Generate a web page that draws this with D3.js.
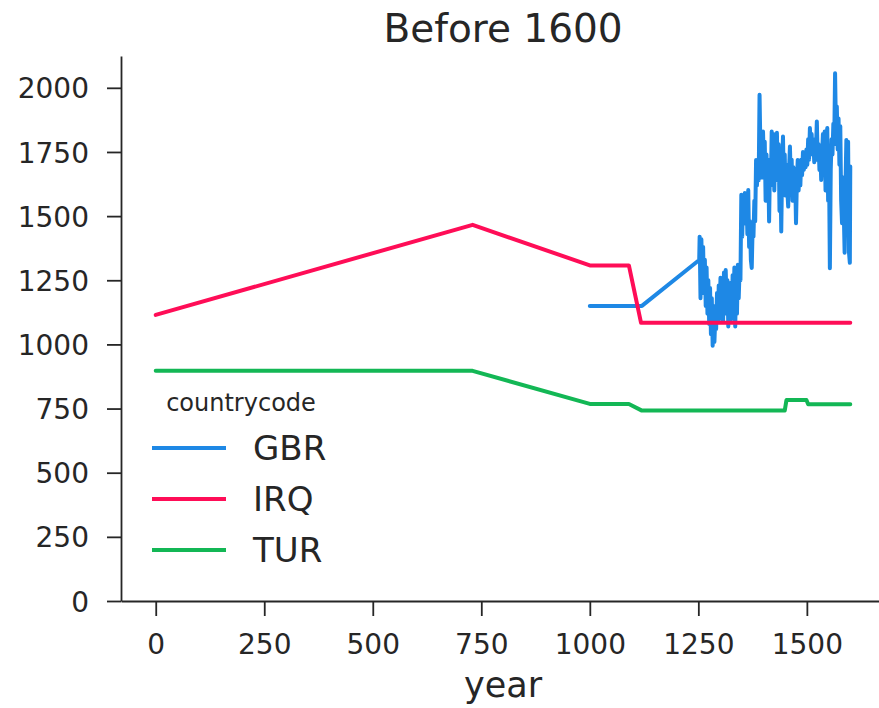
<!DOCTYPE html>
<html>
<head>
<meta charset="utf-8">
<script src="https://cdn.jsdelivr.net/npm/d3@7"></script>
<style>
  body { margin: 0; background: #fff; }
  text { font-family: "DejaVu Sans", sans-serif; fill: #262626; }
</style>
</head>
<body>
<div id="chart"></div>
<script>
// values ([year, value])
const countries = ["GBR", "IRQ", "TUR"];
const colors = ["#1e88e5", "#ff0d57", "#13b755"];

const irq = [[0, 1115], [730, 1466], [1000, 1308], [1090, 1308], [1118, 1084], [1600, 1084]];
const tur = [[0, 897], [730, 897], [1000, 768], [1090, 768], [1120, 742], [1449, 742],
  [1453, 783], [1499, 783], [1503, 767], [1600, 767]];
const gbr = [[1000, 1150], [1120, 1150], [1252, 1329],
  [1253, 1420], [1255, 1180], [1257, 1410], [1259, 1250], [1261, 1380], [1263, 1200],
  [1265, 1330], [1267, 1150], [1269, 1300], [1271, 1120], [1273, 1250], [1275, 1080],
  [1277, 1220], [1279, 1040], [1281, 1180], [1283, 995], [1285, 1150], [1287, 1010],
  [1289, 1100], [1291, 1060], [1293, 1200], [1295, 1090], [1297, 1230], [1299, 1120],
  [1301, 1260], [1303, 1100], [1305, 1240], [1307, 1090], [1309, 1280], [1311, 1120],
  [1313, 1290], [1315, 1180], [1317, 1250], [1319, 1070], [1321, 1200], [1323, 1090],
  [1325, 1240], [1327, 1100], [1329, 1270], [1331, 1130], [1333, 1300], [1335, 1070],
  [1337, 1250], [1339, 1120], [1341, 1310], [1343, 1180], [1345, 1290], [1347, 1250],
  [1349, 1583], [1351, 1420], [1353, 1560], [1355, 1470], [1357, 1590], [1359, 1500],
  [1361, 1560], [1363, 1430], [1365, 1602], [1367, 1380], [1369, 1480], [1371, 1330],
  [1373, 1298], [1375, 1450], [1377, 1420], [1379, 1560], [1381, 1480], [1383, 1719],
  [1385, 1620], [1387, 1700], [1389, 1640], [1391, 1973], [1393, 1760], [1395, 1830],
  [1397, 1650], [1399, 1830], [1401, 1700], [1403, 1790], [1405, 1560], [1407, 1740],
  [1409, 1600], [1411, 1720], [1413, 1479], [1415, 1700], [1417, 1620], [1419, 1830],
  [1421, 1640], [1423, 1820], [1425, 1600], [1427, 1810], [1429, 1690], [1431, 1825],
  [1433, 1640], [1435, 1780], [1437, 1520], [1439, 1700], [1441, 1440], [1443, 1690],
  [1445, 1810], [1447, 1620], [1449, 1740], [1451, 1580], [1453, 1700], [1455, 1600],
  [1457, 1537], [1459, 1680], [1461, 1771], [1463, 1640], [1465, 1720], [1467, 1560],
  [1469, 1690], [1471, 1590], [1473, 1660], [1475, 1472], [1477, 1640], [1479, 1719],
  [1481, 1600], [1483, 1680], [1485, 1620], [1487, 1720], [1489, 1660], [1491, 1750],
  [1493, 1680], [1495, 1732], [1497, 1690], [1499, 1760], [1501, 1700], [1503, 1800],
  [1505, 1720], [1507, 1843], [1509, 1760], [1511, 1820], [1513, 1740], [1515, 1790],
  [1517, 1710], [1519, 1800], [1521, 1760], [1523, 1869], [1525, 1720], [1527, 1780],
  [1529, 1680], [1531, 1760], [1533, 1641], [1535, 1740], [1537, 1820], [1539, 1700],
  [1541, 1830], [1543, 1600], [1545, 1800], [1547, 1843], [1549, 1560], [1551, 1700],
  [1553, 1297], [1555, 1680], [1557, 1800], [1559, 1740], [1561, 1860], [1563, 1780],
  [1565, 2057], [1567, 1830], [1569, 1927], [1571, 1760], [1573, 1880], [1575, 1700],
  [1577, 1850], [1579, 1560], [1581, 1472], [1583, 1650], [1585, 1520], [1587, 1357],
  [1589, 1620], [1591, 1797], [1593, 1500], [1595, 1790], [1597, 1360], [1599, 1318],
  [1600, 1693]];

const xTicks = [0, 250, 500, 750, 1000, 1250, 1500];
const yTicks = [0, 250, 500, 750, 1000, 1250, 1500, 1750, 2000];

const width = 879, height = 708;
const series = [gbr, irq, tur];

const x = d3.scaleLinear([-80, 1680], [121, 885]);
const y = d3.scaleLinear([0, 2124], [601, 56]);

const svg = d3.select("#chart").append("svg")
    .attr("width", width)
    .attr("height", height);

const line = d3.line()
    .x(d => x(d[0]))
    .y(d => y(d[1]));

svg.selectAll("path.series")
    .data(series)
    .join("path")
    .attr("class", "series")
    .attr("d", line)
    .attr("fill", "none")
    .attr("stroke", (d, i) => colors[i])
    .attr("stroke-width", 4)
    .attr("stroke-linejoin", "round")
    .attr("stroke-linecap", "round");

// axes
const fmt = d3.format("d");
const xAxis = svg.append("g")
    .attr("transform", `translate(0,${y(0)})`)
    .call(d3.axisBottom(x).tickValues(xTicks).tickFormat(fmt)
        .tickSize(15).tickPadding(18).tickSizeOuter(0));
const yAxis = svg.append("g")
    .attr("transform", `translate(${x(-80)},0)`)
    .call(d3.axisLeft(y).tickValues(yTicks).tickFormat(fmt)
        .tickSize(14).tickPadding(18).tickSizeOuter(0));

[xAxis, yAxis].forEach(g => {
    g.select(".domain").attr("stroke", "#262626").attr("stroke-width", 1.8);
    g.selectAll(".tick line").attr("stroke", "#262626").attr("stroke-width", 1.8);
    g.selectAll(".tick text")
        .attr("fill", "#262626")
        .style("font-family", "'DejaVu Sans', sans-serif")
        .style("font-size", "28px");
});
yAxis.selectAll(".tick text").attr("dy", "0.36em");

svg.append("text")
    .attr("x", 503).attr("y", 42)
    .attr("text-anchor", "middle")
    .style("font-size", "39px")
    .text("Before 1600");

svg.append("text")
    .attr("x", 503).attr("y", 697)
    .attr("text-anchor", "middle")
    .style("font-size", "35px")
    .text("year");

// legend
const legend = svg.append("g");
legend.append("text")
    .attr("x", 241).attr("y", 411)
    .attr("text-anchor", "middle")
    .style("font-size", "24px")
    .text("countrycode");

const items = legend.selectAll("g.item")
    .data(countries)
    .join("g")
    .attr("class", "item")
    .attr("transform", (d, i) => `translate(0,${448 + i * 51})`);
items.append("line")
    .attr("x1", 152).attr("x2", 226)
    .attr("stroke", (d, i) => colors[i])
    .attr("stroke-width", 4);
items.append("text")
    .attr("x", 253).attr("y", 12)
    .style("font-size", "34px")
    .text(d => d);
</script>
</body>
</html>
